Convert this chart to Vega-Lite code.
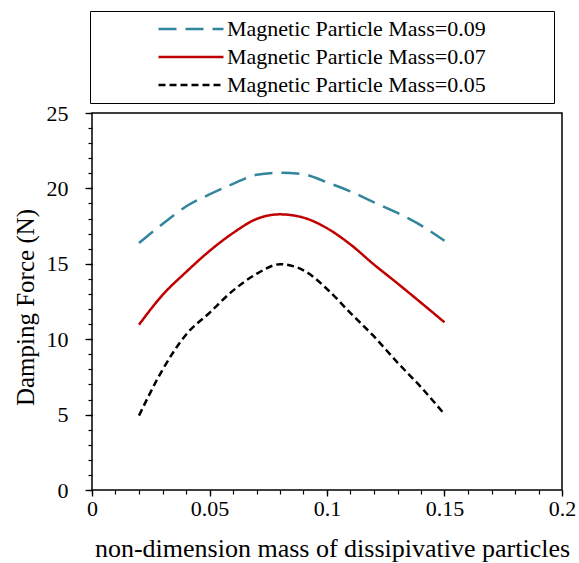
{
  "$schema": "https://vega.github.io/schema/vega-lite/v6.json",
  "width": 470,
  "height": 377,
  "autosize": {"type": "none"},
  "padding": {"left": 92, "top": 113, "right": 17, "bottom": 73},
  "background": "white",
  "config": {
    "view": {"stroke": "black", "strokeWidth": 1.5},
    "font": "Liberation Serif",
    "axis": {
      "grid": false,
      "domain": false,
      "labelFont": "Liberation Serif",
      "labelFontSize": 22,
      "labelColor": "black",
      "titleFont": "Liberation Serif",
      "titleFontSize": 25,
      "titleFontWeight": "normal",
      "titleColor": "black"
    }
  },
  "data": {
    "values": [
      {"x": 0.02, "y": 16.38, "series": "Magnetic Particle Mass=0.09"},
      {"x": 0.03, "y": 17.64, "series": "Magnetic Particle Mass=0.09"},
      {"x": 0.04, "y": 18.8, "series": "Magnetic Particle Mass=0.09"},
      {"x": 0.05, "y": 19.6, "series": "Magnetic Particle Mass=0.09"},
      {"x": 0.06, "y": 20.3, "series": "Magnetic Particle Mass=0.09"},
      {"x": 0.07, "y": 20.9, "series": "Magnetic Particle Mass=0.09"},
      {"x": 0.08, "y": 21.03, "series": "Magnetic Particle Mass=0.09"},
      {"x": 0.09, "y": 20.94, "series": "Magnetic Particle Mass=0.09"},
      {"x": 0.10, "y": 20.4, "series": "Magnetic Particle Mass=0.09"},
      {"x": 0.11, "y": 19.8, "series": "Magnetic Particle Mass=0.09"},
      {"x": 0.12, "y": 19.08, "series": "Magnetic Particle Mass=0.09"},
      {"x": 0.13, "y": 18.37, "series": "Magnetic Particle Mass=0.09"},
      {"x": 0.14, "y": 17.55, "series": "Magnetic Particle Mass=0.09"},
      {"x": 0.15, "y": 16.53, "series": "Magnetic Particle Mass=0.09"},
      {"x": 0.02, "y": 10.96, "series": "Magnetic Particle Mass=0.07"},
      {"x": 0.03, "y": 12.93, "series": "Magnetic Particle Mass=0.07"},
      {"x": 0.04, "y": 14.45, "series": "Magnetic Particle Mass=0.07"},
      {"x": 0.05, "y": 15.85, "series": "Magnetic Particle Mass=0.07"},
      {"x": 0.06, "y": 17.04, "series": "Magnetic Particle Mass=0.07"},
      {"x": 0.07, "y": 17.97, "series": "Magnetic Particle Mass=0.07"},
      {"x": 0.08, "y": 18.28, "series": "Magnetic Particle Mass=0.07"},
      {"x": 0.09, "y": 18.06, "series": "Magnetic Particle Mass=0.07"},
      {"x": 0.10, "y": 17.36, "series": "Magnetic Particle Mass=0.07"},
      {"x": 0.11, "y": 16.28, "series": "Magnetic Particle Mass=0.07"},
      {"x": 0.12, "y": 14.95, "series": "Magnetic Particle Mass=0.07"},
      {"x": 0.13, "y": 13.7, "series": "Magnetic Particle Mass=0.07"},
      {"x": 0.14, "y": 12.42, "series": "Magnetic Particle Mass=0.07"},
      {"x": 0.15, "y": 11.12, "series": "Magnetic Particle Mass=0.07"},
      {"x": 0.02, "y": 4.93, "series": "Magnetic Particle Mass=0.05"},
      {"x": 0.03, "y": 7.97, "series": "Magnetic Particle Mass=0.05"},
      {"x": 0.04, "y": 10.3, "series": "Magnetic Particle Mass=0.05"},
      {"x": 0.05, "y": 11.75, "series": "Magnetic Particle Mass=0.05"},
      {"x": 0.06, "y": 13.22, "series": "Magnetic Particle Mass=0.05"},
      {"x": 0.07, "y": 14.33, "series": "Magnetic Particle Mass=0.05"},
      {"x": 0.08, "y": 14.97, "series": "Magnetic Particle Mass=0.05"},
      {"x": 0.09, "y": 14.57, "series": "Magnetic Particle Mass=0.05"},
      {"x": 0.10, "y": 13.33, "series": "Magnetic Particle Mass=0.05"},
      {"x": 0.11, "y": 11.73, "series": "Magnetic Particle Mass=0.05"},
      {"x": 0.12, "y": 10.18, "series": "Magnetic Particle Mass=0.05"},
      {"x": 0.13, "y": 8.45, "series": "Magnetic Particle Mass=0.05"},
      {"x": 0.14, "y": 6.82, "series": "Magnetic Particle Mass=0.05"},
      {"x": 0.15, "y": 5.02, "series": "Magnetic Particle Mass=0.05"}
    ]
  },
  "layer": [
    {
      "mark": {"type": "line", "interpolate": "monotone", "strokeWidth": 2.5},
      "encoding": {
        "x": {
          "field": "x",
          "type": "quantitative",
          "scale": {"domain": [0, 0.2], "nice": false, "zero": false},
          "axis": {
            "orient": "bottom",
            "values": [0, 0.05, 0.1, 0.15, 0.2],
            "format": "~g",
            "ticks": true,
            "tickColor": "black",
            "tickWidth": 1.3,
            "tickSize": 6,
            "labelPadding": 2,
            "labelFlush": false,
            "title": "non-dimension mass of dissipivative particles",
            "titleFontSize": 26,
            "titleX": 240,
            "titleY": 66,
            "titleBaseline": "alphabetic"
          }
        },
        "y": {
          "field": "y",
          "type": "quantitative",
          "scale": {"domain": [0, 25], "nice": false},
          "axis": {
            "orient": "left",
            "values": [0, 5, 10, 15, 20, 25],
            "ticks": true,
            "tickColor": "black",
            "tickWidth": 1.3,
            "tickSize": 7,
            "labelPadding": 17,
            "title": "Damping Force (N)",
            "titleX": -59,
            "titleY": 194,
            "titleBaseline": "alphabetic"
          }
        },
        "color": {
          "field": "series",
          "type": "nominal",
          "scale": {
            "domain": ["Magnetic Particle Mass=0.09", "Magnetic Particle Mass=0.07", "Magnetic Particle Mass=0.05"],
            "range": ["#31859C", "#C00000", "#000000"]
          },
          "legend": {
            "orient": "none",
            "legendX": -2,
            "legendY": -102,
            "title": null,
            "strokeColor": "black",
            "padding": 4,
            "symbolType": "stroke",
            "symbolSize": 4225,
            "symbolStrokeWidth": 2.5,
            "clipHeight": 28,
            "rowPadding": 0,
            "symbolOffset": 63,
            "labelOffset": 2,
            "labelFont": "Liberation Serif",
            "labelFontSize": 22,
            "labelColor": "black",
            "labelLimit": 600,
            "labelExpr": "datum.label + '\u2800\u2800\u2800\u2800'"
          }
        },
        "strokeDash": {
          "field": "series",
          "type": "nominal",
          "scale": {
            "domain": ["Magnetic Particle Mass=0.09", "Magnetic Particle Mass=0.07", "Magnetic Particle Mass=0.05"],
            "range": [[18, 9], [1, 0], [7, 4]]
          },
          "legend": null
        }
      }
    },
    {
      "mark": {"type": "line", "opacity": 0},
      "encoding": {
        "x": {
          "field": "x",
          "type": "quantitative",
          "axis": {
            "orient": "bottom",
            "values": [0, 0.01, 0.02, 0.03, 0.04, 0.05, 0.06, 0.07, 0.08, 0.09, 0.1, 0.11, 0.12, 0.13, 0.14, 0.15, 0.16, 0.17, 0.18, 0.19, 0.2],
            "labels": false,
            "title": null,
            "ticks": true,
            "tickColor": "black",
            "tickWidth": 1.2,
            "tickSize": 4
          }
        },
        "y": {
          "field": "y",
          "type": "quantitative",
          "axis": {
            "orient": "left",
            "values": [0, 1, 2, 3, 4, 5, 6, 7, 8, 9, 10, 11, 12, 13, 14, 15, 16, 17, 18, 19, 20, 21, 22, 23, 24, 25],
            "labels": false,
            "title": null,
            "ticks": true,
            "tickColor": "black",
            "tickWidth": 1.2,
            "tickSize": 4
          }
        },
        "detail": {"field": "series", "type": "nominal"}
      }
    }
  ],
  "resolve": {"axis": {"x": "independent", "y": "independent"}}
}
